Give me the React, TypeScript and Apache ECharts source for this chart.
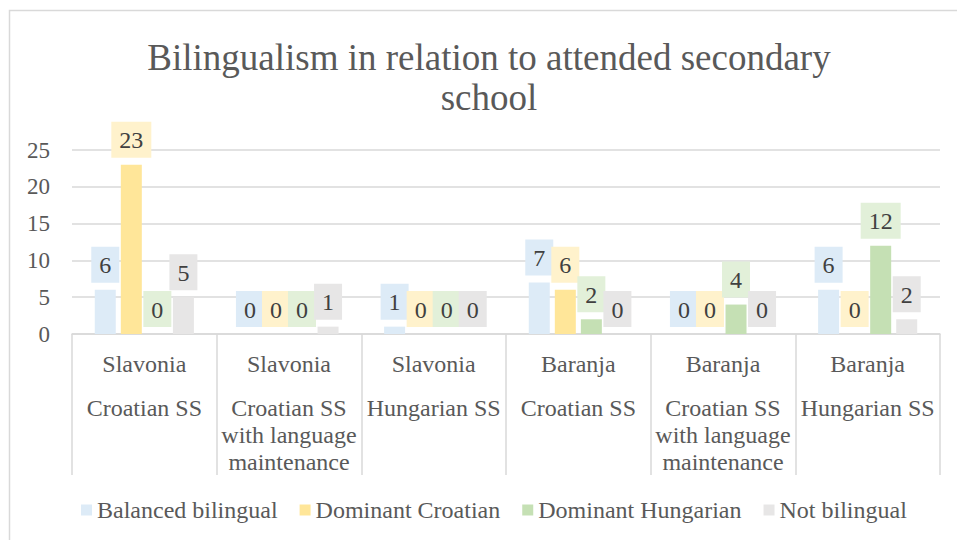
import React, { useEffect, useRef } from "react";
import * as echarts from "echarts";

const regions = ["Slavonia", "Slavonia", "Slavonia", "Baranja", "Baranja", "Baranja"];
const schools = [
  "Croatian SS",
  "Croatian SS\nwith language\nmaintenance",
  "Hungarian SS",
  "Croatian SS",
  "Croatian SS\nwith language\nmaintenance",
  "Hungarian SS",
];
const seriesNames = ["Balanced bilingual", "Dominant Croatian", "Dominant Hungarian", "Not bilingual"];
const balanced = [6, 0, 1, 7, 0, 6];
const domCroatian = [23, 0, 0, 6, 0, 0];
const domHungarian = [0, 0, 0, 2, 4, 12];
const notBilingual = [5, 1, 0, 0, 0, 2];
const yTicks = [0, 5, 10, 15, 20, 25];

const barColors = ["#DDEBF7", "#FFE699", "#C5E0B4", "#E7E6E6"];
const labelBg = ["#DDEBF7", "#FFF2CC", "#E2F0D9", "#E7E6E6"];

const FONT = "Liberation Serif";

export default function App() {
  const ref = useRef<HTMLDivElement>(null);
  useEffect(() => {
    if (!ref.current) return;
    const chart = echarts.init(ref.current, null, { renderer: "svg" });
    const values = [balanced, domCroatian, domHungarian, notBilingual];
    const categories = regions.map((r, i) => r + "|" + schools[i]);
    chart.setOption({
      animation: false,
      title: {
        text: "Bilingualism in relation to attended secondary\nschool",
        left: 489,
        top: 37,
        textAlign: "center",
        padding: 0,
        textStyle: {
          fontFamily: FONT,
          fontSize: 37,
          fontWeight: "normal",
          color: "#595959",
          lineHeight: 40,
        },
      },
      graphic: [
        {
          type: "rect",
          shape: { x: 9.5, y: 10.5, width: 1000, height: 600 },
          style: { fill: "none", stroke: "#D9D9D9", lineWidth: 1.5 },
          silent: true,
          z: -10,
        },
      ],
      legend: {
        left: 81,
        top: 498,
        itemWidth: 11,
        itemHeight: 11,
        itemGap: 22,
        icon: "rect",
        padding: 0,
        textStyle: { fontFamily: FONT, fontSize: 24, color: "#595959" },
        data: seriesNames,
      },
      grid: { left: 72, right: 17, top: 150, bottom: 206, containLabel: false },
      xAxis: {
        type: "category",
        data: categories,
        boundaryGap: true,
        axisLine: { show: true, lineStyle: { color: "#D9D9D9", width: 1.5 } },
        axisTick: { show: true, length: 141, lineStyle: { color: "#D9D9D9", width: 1.5 } },
        axisLabel: {
          interval: 0,
          margin: 0,
          fontFamily: FONT,
          fontSize: 24,
          color: "#595959",
          formatter: (v: string) => {
            const [r, s] = v.split("|");
            return "{r|" + r + "}\n" + s.split("\n").map((l) => "{s|" + l + "}").join("\n");
          },
          rich: {
            r: { fontFamily: FONT, fontSize: 24, color: "#595959", lineHeight: 60 },
            s: { fontFamily: FONT, fontSize: 24, color: "#595959", lineHeight: 27 },
          },
        },
      },
      yAxis: {
        type: "value",
        min: yTicks[0],
        max: yTicks[yTicks.length - 1],
        interval: 5,
        axisLine: { show: false },
        axisTick: { show: false },
        splitLine: { lineStyle: { color: "#D9D9D9", width: 1.5 } },
        axisLabel: { fontFamily: FONT, fontSize: 23, color: "#595959", margin: 22 },
      },
      series: seriesNames.map((name, i) => ({
        name,
        type: "bar",
        data: values[i],
        barWidth: 21,
        barGap: "24%",
        itemStyle: { color: barColors[i] },
        label: {
          show: true,
          position: "top",
          distance: 7,
          fontFamily: FONT,
          fontSize: 24,
          color: "#404040",
          backgroundColor: labelBg[i],
          padding: [5, 8, 4, 8],
          lineHeight: 27,
        },
      })),
    });
    return () => chart.dispose();
  }, []);
  return (
    <div
      ref={ref}
      style={{ position: "absolute", left: 0, top: 0, width: 957, height: 540 }}
    />
  );
}
